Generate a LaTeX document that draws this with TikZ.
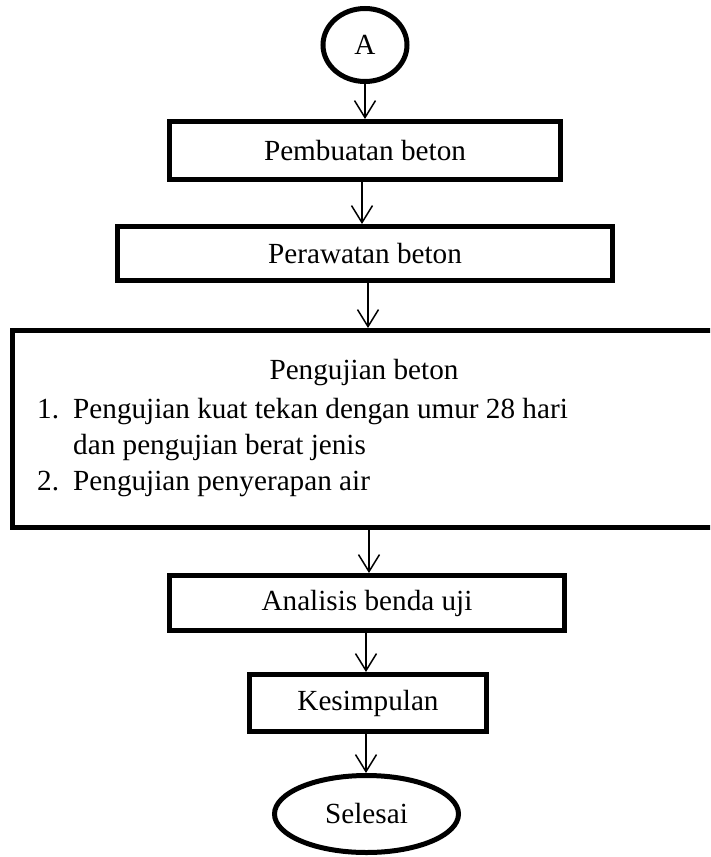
\documentclass[tikz,border=0pt]{standalone}
\usepackage{fontspec}
\setmainfont{Liberation Serif}
\usetikzlibrary{arrows.meta,shapes.geometric}
\begin{document}
\begin{tikzpicture}[x=1pt,y=-1pt,
  box/.style={draw, line width=5pt, rectangle, inner sep=0pt, font=\fontsize{29.2}{35}\selectfont},
  oval/.style={draw, line width=5pt, ellipse, inner sep=0pt, font=\fontsize{29.2}{35}\selectfont},
  arr/.style={line width=1.5pt, -{Straight Barb[length=17pt,width=21pt]}},
  txt/.style={inner sep=0pt, font=\fontsize{29.2}{35}\selectfont}]
\useasboundingbox (0,0) rectangle (710,857);
\clip (0,0) rectangle (710,857);
\node[oval, minimum width=84pt, minimum height=73pt] (A) at (365,45) {A};
\node[box, minimum width=391pt, minimum height=58pt] (b1) at (365,150.5) {Pembuatan beton};
\node[box, minimum width=495pt, minimum height=54pt] (b2) at (365,253.5) {Perawatan beton};
\node[box, minimum width=707.5pt, minimum height=197pt] (b3) at (366.25,429) {};
\node[txt, anchor=base] (t0) at (364,379) {Pengujian beton};
\node[txt, anchor=base west] (n1) at (37,418) {1.};
\node[txt, anchor=base west] (t1) at (73,418) {Pengujian kuat tekan dengan umur 28 hari};
\node[txt, anchor=base west] (t2) at (73,454) {dan pengujian berat jenis};
\node[txt, anchor=base west] (n2) at (37,490) {2.};
\node[txt, anchor=base west] (t3) at (73,490) {Pengujian penyerapan air};
\node[box, minimum width=395pt, minimum height=55pt] (b4) at (367,603) {Analisis benda uji};
\node[box, minimum width=237pt, minimum height=57pt] (b5) at (368,703) {Kesimpulan};
\node[oval, minimum width=184pt, minimum height=77pt] (E) at (366.5,814) {Selesai};
\draw[arr] (A.south) -- (A.south |- b1.north);
\draw[arr] (362,179.5) coordinate (s2) -- (s2 |- b2.north);
\draw[arr] (368,280.5) coordinate (s3) -- (s3 |- b3.north);
\draw[arr] (369,527.5) coordinate (s4) -- (s4 |- b4.north);
\draw[arr] (366,630.5) coordinate (s5) -- (s5 |- b5.north);
\draw[arr] (366,731.5) coordinate (s6) -- (s6 |- E.north);
\end{tikzpicture}
\end{document}
